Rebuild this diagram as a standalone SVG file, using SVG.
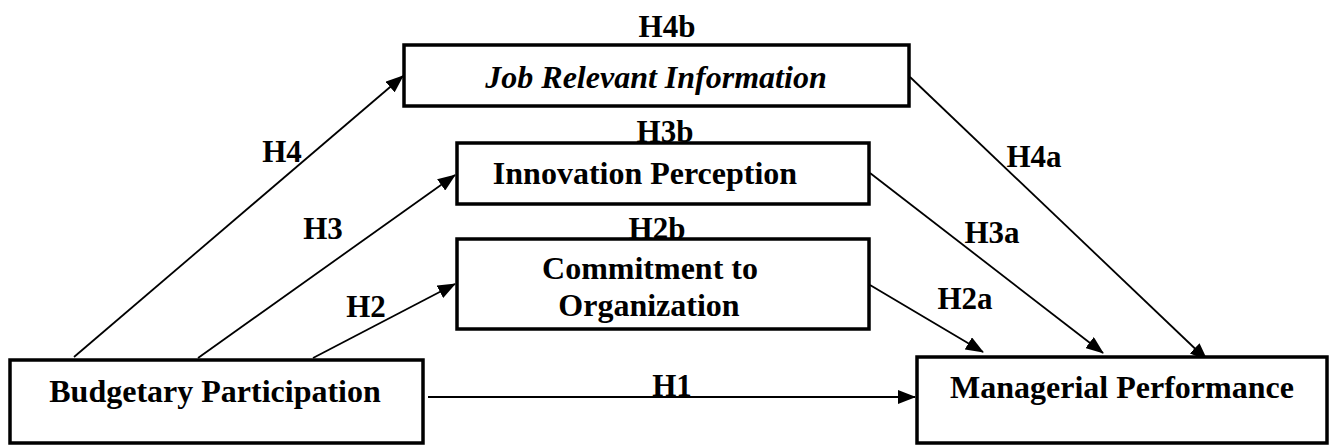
<svg xmlns="http://www.w3.org/2000/svg" width="1331" height="446" viewBox="0 0 1331 446">
<style>
.box{fill:#fff;stroke:#000;stroke-width:3.5}
.t{font-family:"Liberation Serif",serif;font-weight:bold;font-size:32px;fill:#000;text-anchor:middle}
.l{font-family:"Liberation Serif",serif;font-weight:bold;font-size:31px;fill:#000;text-anchor:middle}
.c{stroke:#000;stroke-width:1.8;fill:none;marker-end:url(#ah)}
</style>
<defs>
<marker id="ah" markerUnits="userSpaceOnUse" markerWidth="18" markerHeight="14" viewBox="0 0 18 14" refX="17" refY="7" orient="auto">
<path d="M0,0 L18,7 L0,14 Z" fill="#000"/>
</marker>
</defs>
<rect width="1331" height="446" fill="#fff"/>
<g id="connectors">
<line class="c" x1="74" y1="357" x2="403" y2="76"/>
<line class="c" x1="198" y1="358" x2="455" y2="175"/>
<line class="c" x1="313" y1="358" x2="455" y2="284"/>
<line class="c" x1="428" y1="397" x2="915" y2="397"/>
<line class="c" x1="910" y1="77" x2="1207" y2="360"/>
<line class="c" x1="870" y1="173" x2="1103" y2="353"/>
<line class="c" x1="870" y1="285" x2="983" y2="352"/>
</g>
<g id="labels">
<text class="l" x="667" y="37">H4b</text>
<text class="l" x="665" y="142">H3b</text>
<text class="l" x="657" y="239">H2b</text>
<text class="l" x="282" y="162">H4</text>
<text class="l" x="323" y="239">H3</text>
<text class="l" x="366" y="317">H2</text>
<text class="l" x="672" y="396">H1</text>
<text class="l" x="1034" y="167">H4a</text>
<text class="l" x="992" y="243">H3a</text>
<text class="l" x="965" y="309">H2a</text>
</g>
<g id="job-relevant-information">
<rect class="box" x="404" y="45" width="505" height="61"/>
<text class="t" x="656" y="88" font-style="italic">Job Relevant Information</text>
</g>
<g id="innovation-perception">
<rect class="box" x="457" y="143" width="412" height="61"/>
<text class="t" x="645" y="184">Innovation Perception</text>
</g>
<g id="commitment-to-organization">
<rect class="box" x="457" y="239" width="412" height="90"/>
<text class="t" x="650" y="279">Commitment to</text>
<text class="t" x="649" y="316">Organization</text>
</g>
<g id="budgetary-participation">
<rect class="box" x="10" y="360" width="413" height="83"/>
<text class="t" x="215" y="402">Budgetary Participation</text>
</g>
<g id="managerial-performance">
<rect class="box" x="917" y="357" width="410" height="86"/>
<text class="t" x="1122" y="398">Managerial Performance</text>
</g>
</svg>
